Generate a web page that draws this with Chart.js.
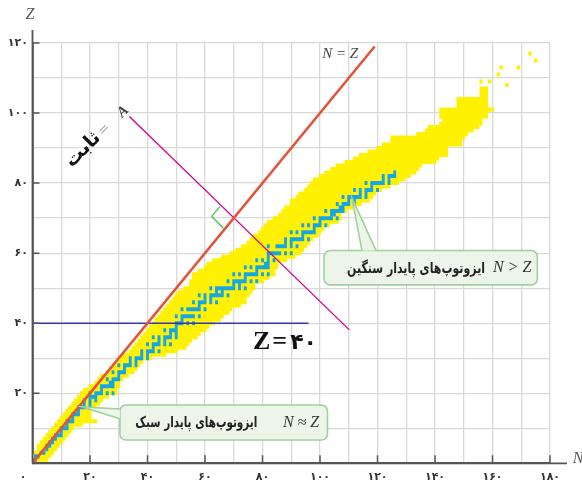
<!DOCTYPE html>
<html lang="fa">
<head>
<meta charset="UTF-8">
<title>نمودار ایزوتوپ‌ها</title>
<script src="https://cdn.jsdelivr.net/npm/chart.js"></script>
<style>
  html, body { margin: 0; padding: 0; background: #fff; }
  canvas { display: block; }
</style>
</head>
<body>
<canvas id="chart" width="582" height="490"></canvas>
<script>
// known isotopes (yellow): one row per Z, N from bandNMin to bandNMax
const bandZ = [1,2,3,4,5,6,7,8,9,10,11,12,13,14,15,16,17,18,19,20,21,22,23,24,25,26,27,28,29,30,
  31,32,33,34,35,36,37,38,39,40,41,42,43,44,45,46,47,48,49,50,51,52,53,54,55,56,57,58,59,60,
  61,62,63,64,65,66,67,68,69,70,71,72,73,74,75,76,77,78,79,80,81,82,83,84,85,86,87,88,89,90,
  91,92,93,94,95,96,97,98,99,100,101,102,103,104,105,106,107];
const bandNMin = [0,0,1,2,2,3,4,5,6,7,8,9,10,11,12,13,14,15,16,17,18,20,22,23,24,26,27,28,30,31,
  32,34,35,36,37,38,39,40,41,42,43,44,45,46,47,48,49,50,51,53,55,55,56,56,58,60,61,63,66,69,
  71,73,75,76,77,79,80,81,82,84,86,87,88,90,90,92,93,95,96,97,98,100,102,104,106,109,112,114,117,120,
  122,125,125,134,137,138,142,143,142,142,142,148,148,148,156,156,156];
const bandNMax = [5,6,7,8,9,10,11,12,13,14,17,22,20,20,20,22,23,24,26,29,29,30,30,31,33,35,36,37,38,41,
  46,50,53,54,55,57,58,60,61,63,65,66,68,69,72,74,74,75,76,77,77,80,82,84,84,85,85,88,91,93,
  94,95,96,97,99,100,101,103,106,107,107,109,111,114,117,118,119,121,124,127,129,131,133,134,135,140,141,144,144,144,
  149,149,150,151,153,155,156,156,158,158,160,158,158,158,158,158,158];
// isolated heavy isotopes
const loneN = [156,159,165,162,163,169,173,175];
const loneZ = [109,109,108,111,113,113,117,115];

// stable isotopes (blue): neutron numbers for each Z
const stableZ = [1,2,3,4,5,6,7,8,9,10,11,12,13,14,15,16,17,18,19,20,21,22,23,24,25,26,27,28,29,30,
  31,32,33,34,35,36,37,38,39,40,41,42,44,45,46,47,48,49,50,51,52,53,54,55,56,57,58,59,60,
  62,63,64,65,66,67,68,69,70,71,72,73,74,75,76,77,78,79,80,81,82,83];
const stableN = [[0,1],[1,2],[3,4],[5],[5,6],[6,7],[7,8],[8,9,10],[10],[10,11,12],
  [12],[12,13,14],[14],[14,15,16],[16],[16,17,18,20],[18,20],[18,20,22],[20,21,22],[20,22,23,24,26,28],
  [24],[24,25,26,27,28],[27,28],[26,28,29,30],[30],[28,30,31,32],[32],[30,32,33,34,36],[34,36],[34,36,37,38,40],
  [38,40],[38,40,41,42,44],[42],[40,42,43,44,46,48],[44,46],[42,44,46,47,48,50],[48,50],[46,48,49,50],[50],[50,51,52,54,56],
  [52],[50,52,53,54,55,56,58],[52,54,55,56,57,58,60],[58],[56,58,59,60,62,64],[60,62],[58,60,62,63,64,65,66,68],[64,66],
  [62,64,65,66,67,68,69,70,72,74],[70,72],[68,70,71,72,73,74,76,78],[74],[70,72,74,75,76,77,78,80,82],[78],
  [74,76,78,79,80,81,82],[81,82],[78,80,82,84],[82],[82,83,84,85,86,88,90],
  [82,85,86,87,88,90,92],[88,90],[88,90,91,92,93,94,96],[94],[90,92,94,95,96,97,98],[98],[94,96,98,99,100,102],[100],
  [98,100,101,102,103,104,106],[104,105],[102,104,105,106,107,108],[107,108],[106,108,109,110,112],[110,112],
  [108,110,111,112,113,114,116],[114,116],[112,114,116,117,118,120],[118],[116,118,119,120,121,122,124],[122,124],
  [122,124,125,126],[126]];

// reference lines (N, Z)
const nzLineN = [0, 119];
const nzLineZ = [0, 119];
const isobarN = [33.7, 110.2];
const isobarZ = [99, 38.1];
const z40N = [0, 96];
const z40Z = [40, 40];
const rightAngleN = [65.2, 62.3, 66.4];
const rightAngleZ = [73.3, 70.5, 67.1];

const nTicks = [20, 40, 60, 80, 100, 120, 140, 160, 180];
const zTicks = [20, 40, 60, 80, 100, 120];

const fa = v => String(v).replace(/\d/g, d => '۰۱۲۳۴۵۶۷۸۹'[d]);
const pts = (ns, zs) => ns.map((n, i) => ({ x: n, y: zs[i] }));

const yellowData = bandZ.map((z, i) => ({ y: z, x: [bandNMin[i] - 0.5, bandNMax[i] + 0.5] }))
  .concat(loneN.map((n, i) => ({ y: loneZ[i], x: [n - 0.6, n + 0.6] })));

// merge consecutive neutron numbers into one bar
const blueData = [];
stableZ.forEach((z, i) => {
  const ns = stableN[i];
  let start = ns[0], prev = ns[0];
  for (let k = 1; k <= ns.length; k++) {
    if (k < ns.length && ns[k] === prev + 1) { prev = ns[k]; continue; }
    blueData.push({ y: z, x: [start - 0.5, prev + 0.5] });
    if (k < ns.length) { start = ns[k]; prev = ns[k]; }
  }
});

// both cell sets share one slot per row; rows a bit thicker than 1 Z so no seams show
const barStyle = { type: 'bar', indexAxis: 'y', stack: 'cells', grouped: false, borderWidth: 0,
  barThickness: 4, inflateAmount: 0 };
const lineStyle = { type: 'line', pointRadius: 0, fill: false, tension: 0, order: 0 };

function callout(ctx, box, tip, b1, b2, persian, latin, persianWidth) {
  ctx.save();
  ctx.fillStyle = '#edf5ea';
  ctx.strokeStyle = '#9fd19a';
  ctx.lineWidth = 1.6;
  ctx.beginPath();
  ctx.roundRect(box.l, box.t, box.r - box.l, box.b - box.t, 6);
  ctx.fill();
  ctx.stroke();
  ctx.beginPath();
  ctx.moveTo(tip.x, tip.y);
  ctx.lineTo(b1.x, b1.y);
  ctx.lineTo(b2.x, b2.y);
  ctx.closePath();
  ctx.fill();
  ctx.beginPath();
  ctx.moveTo(b1.x, b1.y);
  ctx.lineTo(tip.x, tip.y);
  ctx.lineTo(b2.x, b2.y);
  ctx.stroke();

  const cy = (box.t + box.b) / 2;
  ctx.fillStyle = '#222';
  ctx.textBaseline = 'middle';
  ctx.font = 'bold 15px "DejaVu Sans"';
  const w = ctx.measureText(persian.text).width;
  const sx = Math.min(1, persianWidth / w);
  ctx.save();
  ctx.translate(persian.x, cy + 1);
  ctx.scale(sx, 1);
  ctx.direction = 'rtl';
  ctx.textAlign = 'right';
  ctx.fillText(persian.text, 0, 0);
  ctx.restore();
  ctx.textAlign = 'left';
  ctx.fillStyle = '#333';
  ctx.font = 'italic 16px "Liberation Serif"';
  ctx.fillText(latin.text, latin.x, cy);
  ctx.restore();
}

const overlay = {
  id: 'overlay',
  afterDatasetsDraw(chart) {
    const { ctx, scales: { x, y } } = chart;
    const px = n => x.getPixelForValue(n);
    const py = z => y.getPixelForValue(z);
    const x0 = px(0), y0 = py(0);

    ctx.save();
    // axis lines run past the grid
    ctx.strokeStyle = '#555';
    ctx.lineWidth = 1.8;
    ctx.beginPath();
    ctx.moveTo(x0, y0); ctx.lineTo(x0, 30);
    ctx.moveTo(x0, y0); ctx.lineTo(567, y0);
    ctx.stroke();
    ctx.lineWidth = 1.5;
    ctx.beginPath();
    nTicks.forEach(v => { ctx.moveTo(px(v), y0); ctx.lineTo(px(v), y0 - 8); });
    zTicks.forEach(v => { ctx.moveTo(x0, py(v)); ctx.lineTo(x0 + 7, py(v)); });
    ctx.stroke();

    // axis names and origin label
    ctx.fillStyle = '#555';
    ctx.font = 'italic 16px "Liberation Serif"';
    ctx.textAlign = 'center';
    ctx.textBaseline = 'middle';
    ctx.fillText('Z', 30, 15);
    ctx.fillText('N', 578, 459);
    ctx.fillStyle = '#333';
    ctx.font = 'bold 11px "DejaVu Sans"';
    ctx.fillText(fa(0), 23, 477);

    // N = Z label
    ctx.fillStyle = '#444';
    ctx.font = 'italic 15px "Liberation Serif"';
    ctx.fillText('N = Z', px(107), py(116.7));

    // A = ثابت along the isobar
    const rot = (txt, font, color, n, z) => {
      ctx.save();
      ctx.translate(px(n), py(z));
      ctx.rotate(-Math.PI / 4);
      ctx.font = font;
      ctx.fillStyle = color;
      ctx.textAlign = 'center';
      ctx.textBaseline = 'middle';
      ctx.fillText(txt, 0, 0);
      ctx.restore();
    };
    rot('ثابت', 'bold 19px "DejaVu Sans"', '#111', 17.6, 89.5);
    rot('=', '14px "DejaVu Sans"', '#aaa', 24.9, 95.2);
    rot('A', 'italic bold 15px "Liberation Serif"', '#444', 31.5, 100.4);

    // Z = ۴۰
    ctx.fillStyle = '#111';
    ctx.textAlign = 'left';
    ctx.textBaseline = 'alphabetic';
    let tx = px(76.7);
    const ty = py(32.6);
    ctx.font = 'bold 26px "Liberation Serif"';
    ctx.fillText('Z', tx, ty);
    tx += ctx.measureText('Z').width + 2;
    ctx.fillText('=', tx, ty);
    tx += ctx.measureText('=').width + 3;
    ctx.font = 'bold 22px "DejaVu Sans"';
    ctx.fillText(fa(40), tx, ty);

    // callouts
    callout(ctx,
      { l: px(30.4), r: px(102.6), t: py(16.66), b: py(6.66) },
      { x: px(17.2), y: py(16.1) },
      { x: px(30.4), y: py(15.5) }, { x: px(30.4), y: py(12.7) },
      { text: 'ایزوتوپ‌های پایدار سبک', x: px(78.2) }, { text: 'N ≈ Z', x: px(87.1) }, 122);
    callout(ctx,
      { l: px(101.4), r: px(175.6), t: py(60.74), b: py(50.94) },
      { x: px(111.1), y: py(75.8) },
      { x: px(114.6), y: py(60.74) }, { x: px(119.5), y: py(60.74) },
      { text: 'ایزوتوپ‌های پایدار سنگین', x: px(157.4) }, { text: 'N > Z', x: px(160.2) }, 138);
    ctx.restore();
  }
};

new Chart(document.getElementById('chart'), {
  type: 'bar',
  data: {
    datasets: [
      { ...lineStyle, data: pts(rightAngleN, rightAngleZ), borderColor: '#3fbf3f', borderWidth: 1.2 },
      { ...lineStyle, data: pts(nzLineN, nzLineZ), borderColor: '#e0553b', borderWidth: 2.6 },
      { ...lineStyle, data: pts(isobarN, isobarZ), borderColor: '#d4008c', borderWidth: 1.3 },
      { ...lineStyle, data: pts(z40N, z40Z), borderColor: '#3636b0', borderWidth: 1.5 },
      { ...barStyle, data: blueData, backgroundColor: '#16a6e6', order: 1 },
      { ...barStyle, data: yellowData, backgroundColor: '#fff100', order: 2 }
    ]
  },
  options: {
    responsive: false,
    animation: false,
    layout: { padding: { top: 43, right: 32, left: 0, bottom: 0 } },
    plugins: { legend: { display: false }, tooltip: { enabled: false } },
    scales: {
      x: {
        type: 'linear', position: 'bottom', min: 0, max: 180, offset: false, stacked: false,
        grid: { color: '#d9d9d9', lineWidth: 1.3, drawTicks: false, offset: false },
        border: { color: '#555', width: 1.8 },
        ticks: {
          stepSize: 10, autoSkip: false, maxRotation: 0, padding: 7, color: '#333',
          font: { family: 'DejaVu Sans', size: 11, weight: 'bold' },
          callback: v => nTicks.includes(v) ? fa(v) : ''
        },
        afterFit: s => { s.height = 26.7; }
      },
      y: {
        type: 'linear', position: 'left', min: 0, max: 120, offset: false,
        grid: { color: '#d9d9d9', lineWidth: 1.3, drawTicks: false, offset: false },
        border: { color: '#555', width: 1.8 },
        ticks: {
          stepSize: 10, autoSkip: false, padding: 4.5, color: '#333',
          font: { family: 'DejaVu Sans', size: 11, weight: 'bold' },
          callback: v => zTicks.includes(v) ? fa(v) : ''
        },
        afterFit: s => { s.width = 32.5; }
      }
    }
  },
  plugins: [overlay]
});
</script>
</body>
</html>
